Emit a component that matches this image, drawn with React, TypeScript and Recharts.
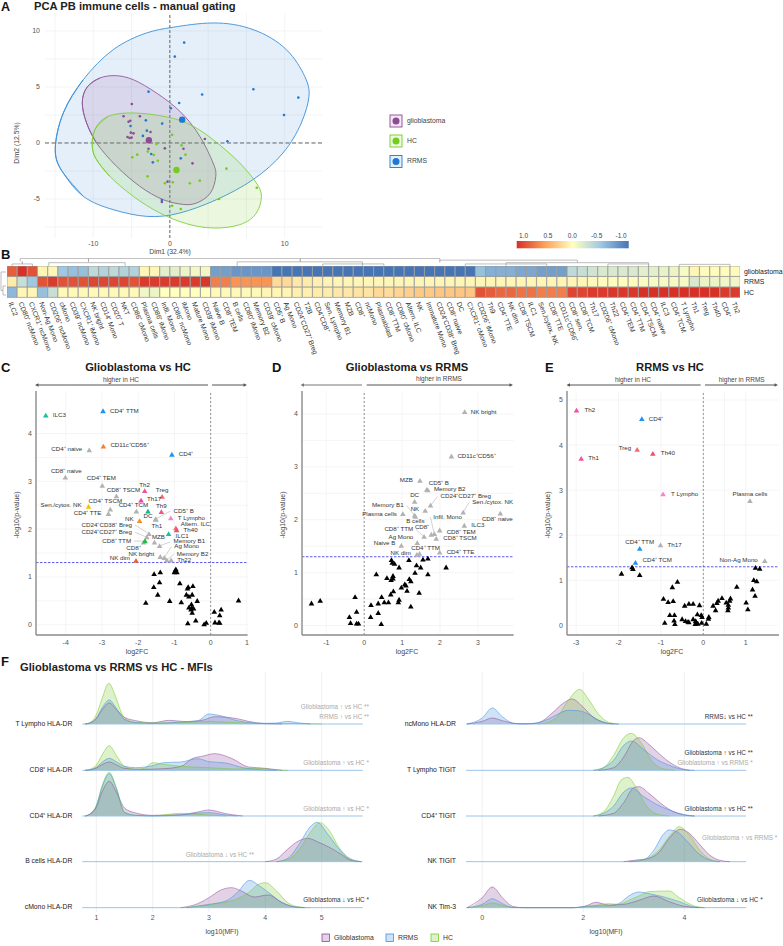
import React from 'react';
import {
  Area, Bar, BarChart, CartesianGrid, Cell, ComposedChart, Line, ReferenceLine,
  Scatter, ScatterChart, XAxis, YAxis,
} from 'recharts';

type Pt = [number, number];
type Named = [string, number, number];
type LabelPos = [number, number, 's' | 'e' | 'm', boolean?];

const PURPLE = '#8e4a96';
const GREEN = '#74cc1e';
const BLUE = '#1f78d1';
const GRAY = '#b2b2b2';

// ---------- A: PCA (x unit = 1/5 of a grid step, the printed labels are not evenly spaced)
const dim1Ticks = [-10, 0, 15];
const dim1Labels = ['-10', '0', '10'];
const dim1Grid = [-15, -10, -5, 0, 5, 10, 15];
const dim2Ticks = [-5, 0, 5, 10];
const dim2Grid = [-7.5, -5, -2.5, 0, 2.5, 5, 7.5, 10];

const rrmsEllipse: Pt[] = [[-14.96, -0.6], [-13.91, 2.68], [-11.3, 5.65], [-7.39, 8.33], [-3.04, 9.82], [0.43, 10.33], [5.65, 10.71], [10.87, 10.12], [15.22, 8.33], [17.61, 5.95], [18.17, 4.17], [17.17, 1.79], [14.78, -0.89], [10.87, -3.27], [6.09, -5.06], [1.3, -6.25], [-3.04, -6.55], [-7.39, -5.95], [-11.3, -4.76], [-13.91, -2.68]];
const glioEllipse: Pt[] = [[-11.43, 3.57], [-10.78, 5], [-9.13, 5.8], [-7.17, 6.01], [-4.78, 5.65], [-1.74, 4.46], [1.3, 2.83], [3.91, 0.6], [5.65, -1.79], [6, -2.98], [5.3, -4.46], [3.48, -5.36], [1.74, -5.48], [-0.87, -5.06], [-3.91, -3.87], [-6.96, -2.08], [-9.57, 0], [-10.87, 1.79]];
const hcEllipse: Pt[] = [[-10.13, -0.3], [-9.78, 1.19], [-8.04, 2.38], [-4.78, 2.68], [-1.3, 2.44], [2.17, 1.79], [5.65, 0.3], [9.13, -1.79], [11.3, -3.57], [11.96, -4.76], [11.3, -6.25], [9.13, -7.29], [5.65, -7.59], [2.17, -7.2], [-1.3, -6.25], [-4.78, -4.76], [-7.83, -2.98], [-9.57, -1.49]];

const glioPoints: Pt[] = [[-4.96, 3.48], [-6.04, 2.38], [-3.91, 2.38], [-5.17, 1.99], [-5.39, 1.9], [-2.52, 0.98], [-5.09, 0.92], [-4.74, 0.86], [-5.52, 0.54], [-5.26, 0.45], [-5, 0.48], [-2.78, -0.51], [-0.65, -0.48], [1.78, -0.51], [2.96, -1.82], [-0.3, -3.45], [-1.04, -5.27], [4.57, 0.36]];
const hcPoints: Pt[] = [[-1.74, -0.09], [0.3, 0.74], [1.52, -0.21], [-2.87, -0.77], [-2.09, -1.07], [-4.26, -1.04], [-4.91, -1.28], [-1.57, -1.58], [2.04, -1.04], [-2.91, -2.98], [-0.65, -3.6], [0.39, -3.51], [2.61, -3.6], [3.91, -3.36], [7.39, -2.29], [11.35, -3.99], [6.43, -5], [0.3, -5.6], [1.43, -5.89]];
const rrmsPoints: Pt[] = [[1.87, 8.96], [0.65, 7.71], [-2.78, 4.58], [4.22, 4.32], [10.91, 4.79], [16.78, 4.05], [14.91, 2.5], [1.22, 3.57], [0.13, 3.1], [-3.13, 2.02], [-1, 1.73], [-5.13, 1.52], [-3, 1.1], [-3.52, 0.63], [7.52, 0.15], [-2.43, -0.98], [-2.22, -1.73], [1.43, -1.37], [-1.04, -5.09]];
const glioCentroid: Pt[] = [[-2.74, 0.24]];
const hcCentroid: Pt[] = [[0.87, -2.41]];
const rrmsCentroid: Pt[] = [[1.61, 2.08]];

// ---------- B: heatmap
const heatLabels = ['ILC2', 'CD80⁺ ncMono', 'CXCR1⁺ ncMono', 'Non-Ag Mono', 'CD206⁺ ncMono', 'cMono', 'CD39⁺ ncMono', 'CXCR1⁺ iMono', 'NK bright', 'CD14⁺ Mono', 'CD20⁺ T', 'NKT', 'CD86⁺ cMono', 'Plasma cells', 'CD86⁺ iMono', 'Infil. Mono', 'CD86⁺ ncMono', 'iMono', 'Mature Mono', 'CD39⁺ iMono', 'Naive B', 'CD8⁺ TEM', 'B cells', 'CD80⁺ iMono', 'Memory B2', 'CD39⁺ cMono', 'CD5⁺ B', 'Ag Mono', 'CD24⁺CD27⁺ Breg', 'T2B', 'CD4⁺CD8⁺', 'Sen. Lympho', 'Memory B1', 'MZB', 'CD8⁺', 'ncMono', 'Plasmablast', 'CD8⁺ TTM', 'CD80⁺ cMono', 'Altern. ILC', 'NK', 'Immature Mono', 'CD24⁺CD38⁺ Breg', 'CD8⁺ naive', 'DC', 'CXCR1⁺ cMono', 'CD206⁺ iMono', 'Th9', 'CD4⁺ TTE', 'NK dim', 'CD8⁺ TSCM', 'ILC1', 'Sen./cytox. NK', 'CD8⁺ TTE', 'CD11c⁺CD56⁺', 'CD8⁺ sen.', 'CD8⁺ TCM', 'Th17', 'CD206⁺ cMono', 'Th22', 'CD4⁺ TEM', 'CD4⁺ TTM', 'CD4⁺ TSCM', 'CD4⁺ naive', 'ILC3', 'CD4⁺ TCM', 'T Lympho', 'Th1', 'Treg', 'Th40', 'CD4⁺', 'Th2'];
const heatGlio = [0.8, 1, 0.85, 0.05, 0.05, -0.5, -0.55, -0.55, -0.35, -0.4, -0.35, -0.4, -0.4, 0.05, 0.05, -0.15, -0.15, -0.1, -0.07, -0.07, -0.75, -0.75, -0.8, -0.8, -0.8, -0.8, -1, -1, -1, -1, -1, -1, -1, -1, -1, -1, -1, -1, -1, -1, -1, -1, -1, -1, -1, -1, -0.55, -0.65, -0.65, -0.65, -0.7, -0.7, -0.75, -0.75, -0.75, -0.35, -0.3, -0.25, -0.2, -0.2, -0.2, -0.2, -0.15, -0.15, -0.12, -0.1, -0.05, 0.05, 0.02, 0.02, 0.02, 0.02];
const heatRrms = [0.1, -0.3, -0.5, 0.85, 0.95, 0.85, 0.85, 0.85, 0.9, 0.9, 0.9, 0.9, 0.85, 0.95, 0.95, 0.95, 0.95, 0.95, 0.95, 0.97, 0.65, 0.65, 0.55, 0.55, 0.55, 0.55, 0.2, 0.2, 0.12, 0.1, 0.08, 0.06, 0.05, 0.05, 0.05, 0.05, 0.05, 0.05, 0.05, 0.05, 0.05, 0.05, 0.05, 0.05, 0.05, 0.05, 0.05, 0.05, 0.05, 0.05, 0.05, 0.05, 0.05, 0.05, 0.05, 0.05, 0.05, 0.03, 0.02, 0.02, 0.02, 0.02, -0.02, -0.05, -0.05, -0.05, -0.05, -0.2, -0.1, -0.1, -0.08, -0.08];
const heatHc = [-0.6, 0.05, 0.05, -0.55, -0.3, 0.03, 0.03, 0.03, 0.03, 0.03, 0.03, 0.03, 0.03, -0.08, -0.1, 0, 0, 0, 0, 0, 0.03, 0.03, 0.03, 0.03, 0.03, 0.05, 0.05, 0.06, 0.08, 0.08, 0.1, 0.1, 0.12, 0.12, 0.14, 0.14, 0.2, 0.18, 0.22, 0.25, 0.28, 0.28, 0.3, 0.3, 0.3, 0.3, 0.85, 0.8, 0.75, 0.75, 0.7, 0.7, 0.65, 0.65, 0.65, 0.9, 0.9, 0.95, 0.95, 0.97, 0.97, 0.97, 1, 1, 1, 1, 1, 1, 1, 1, 0.95, 0.95];
const heatStops: [number, number[]][] = [[-1, [69, 117, 180]], [-0.5, [160, 200, 226]], [0, [255, 255, 191]], [0.5, [252, 160, 90]], [1, [215, 48, 39]]];
// [left column, right column, height, foot of the legs]
const dendroMerges: [number, number, number, number][] = [[1.3, 42.5, 0.95, 0.6], [8, 8, 0.95, 0.55], [28.8, 28.8, 0.9, 0.55], [22.6, 34.9, 0.55, 0], [4.1, 11.6, 0.45, 0], [0.5, 2.5, 0.3, 0], [1.5, 1.5, 0.6, 0.3], [42.5, 56, 0.75, 0.45], [49, 63, 0.45, 0], [59, 63, 0.3, 0], [31, 37, 0.3, 0], [45, 53, 0.3, 0], [66, 71, 0.25, 0]];

// ---------- C, D, E: volcano plots
const cPoints: Named[] = [['ILC3', -4.55, 4.38], ['CD4⁺ TTM', -2.97, 4.47], ['CD11c⁺CD56⁺', -2.96, 3.73], ['CD4⁺ naive', -3.35, 3.65], ['CD4⁺', -1.07, 3.56], ['CD8⁺ naive', -4.01, 3.08], ['CD4⁺ TEM', -2.99, 2.91], ['Th2', -1.82, 2.8], ['CD8⁺ TSCM', -2.6, 2.69], ['Treg', -1.34, 2.68], ['Th17', -1.92, 2.6], ['Sen./cytox. NK', -3.37, 2.47], ['CD4⁺ TSCM', -2.77, 2.41], ['CD4⁺ TTE', -2.82, 2.32], ['CD4⁺ TCM', -2.05, 2.37], ['Th9', -1.36, 2.36], ['DC', -1.73, 2.37], ['CD5⁺ B', -1.52, 2.21], ['T Lympho', -1.1, 2.23], ['Th1', -1.51, 2.2], ['NK', -1.96, 2.17], ['Altern. ILC', -0.96, 2.02], ['Th40', -0.94, 1.98], ['CD24⁺CD38⁺ Breg', -1.7, 1.9], ['ILC1', -1.16, 1.9], ['CD24⁺CD27⁺ Breg', -1.76, 1.83], ['MZB', -1.55, 1.72], ['CD8⁺', -1.85, 1.72], ['CD8⁺ TTM', -1.81, 1.75], ['Memory B1', -1.41, 1.65], ['NK bright', -1.39, 1.42], ['Ag Mono', -1.28, 1.4], ['Memory B2', -1.21, 1.35], ['Th22', -1.09, 1.35], ['NK dim', -2.06, 1.34]];
const cOthers: Pt[] = [[-1.56, 1.06], [-1.39, 1.1], [-0.98, 1.13], [-0.96, 1.16], [-0.93, 1.1], [-1, 1.1], [-0.85, 0.87], [-1.41, 0.89], [-1.57, 0.79], [-0.62, 0.79], [-0.64, 0.76], [-0.49, 0.81], [-1.46, 0.63], [-0.67, 0.63], [-0.51, 0.63], [-0.6, 0.59], [-1.13, 0.5], [-0.37, 0.5], [0.77, 0.51], [-1.79, 0.46], [-0.81, 0.47], [-0.53, 0.43], [-0.6, 0.36], [-0.52, 0.36], [-0.47, 0.34], [-0.54, 0.32], [0.29, 0.32], [0.1, 0.27], [-0.51, 0.25], [0.25, 0.2], [-0.41, 0.09], [-0.63, 0.03], [-0.12, 0.04], [-0.18, 0.01], [0.12, 0.05], [0.23, 0.05], [0.25, 0.04]];
const cColors: Record<string, string> = { ILC3: '#16bfa6', 'CD4⁺ TTM': '#1e93f2', 'CD11c⁺CD56⁺': '#f0803c', 'CD4⁺': '#1e93f2', Th2: '#f0559b', Treg: '#f8696b', Th17: '#ee44aa', 'Sen./cytox. NK': '#f2c200', Th9: '#f2577f', DC: '#0fb88a', 'T Lympho': '#f97fd0', NK: '#f28e2b', 'Altern. ILC': '#f8696b', Th40: '#f0506e', ILC1: '#16bfa6', 'CD8⁺ TTM': '#22b84c', 'NK dim': '#e8622a' };
const cLabels: Record<string, LabelPos> = { ILC3: [4, 0, 's'], 'CD4⁺ TTM': [4, 0, 's'], 'CD11c⁺CD56⁺': [4, -1, 's'], 'CD4⁺ naive': [-4, -1, 'e'], 'CD4⁺': [4, 0, 's'], 'CD8⁺ naive': [1, -6, 'm'], 'CD4⁺ TEM': [-1, -7, 'm'], Th2: [0, -6, 'm'], 'CD8⁺ TSCM': [7, -6, 'm'], Treg: [0, -6, 'm'], Th17: [3, -1, 's'], 'Sen./cytox. NK': [-4, -1, 'e'], 'CD4⁺ TSCM': [-5, -8, 'm'], 'CD4⁺ TTE': [-4, 0, 'e'], 'CD4⁺ TCM': [-3, -6, 'm'], Th9: [0, -6, 'm'], DC: [0, 4.5, 'm'], 'CD5⁺ B': [15, -8, 's', true], 'T Lympho': [4, 0, 's'], Th1: [1, 6.5, 'm'], NK: [-3, -2, 'e'], 'Altern. ILC': [2, -4, 's'], Th40: [4, 0, 's'], 'CD24⁺CD38⁺ Breg': [-14, -9, 'e', true], ILC1: [4, 2, 's'], 'CD24⁺CD27⁺ Breg': [-12, -5, 'e', true], MZB: [4, -5, 'm'], 'CD8⁺ TTM': [-11, 0, 'e', true], 'CD8⁺': [0, 6, 'e'], 'Memory B1': [11, -4, 's', true], 'NK bright': [-3, -2, 'e'], 'Ag Mono': [7, -11, 's', true], 'Memory B2': [7, -6, 's', true], Th22: [3, 0, 's'], 'NK dim': [-3, -2, 'e'] };

const dPoints: Named[] = [['NK bright', 2.65, 4.04], ['CD11c⁺CD56⁺', 2.3, 3.2], ['MZB', 1.47, 2.74], ['CD5⁺ B', 1.65, 2.57], ['Memory B2', 1.68, 2.56], ['DC', 1.33, 2.34], ['CD24⁺CD27⁺ Breg', 1.75, 2.27], ['NK', 1.61, 2.17], ['Sen./cytox. NK', 2.61, 2.14], ['CD8⁺ naive', 3.59, 2.12], ['Memory B1', 1.33, 2.08], ['Plasma cells', 1.02, 2.11], ['B cells', 1.35, 2.06], ['ILC3', 2.64, 1.89], ['Infil. Mono', 1.85, 1.73], ['CD8⁺ TEM', 1.99, 1.8], ['CD8⁺', 1.77, 1.72], ['CD8⁺ TTM', 1.58, 1.68], ['CD8⁺ TSCM', 1.9, 1.64], ['Ag Mono', 1.4, 1.56], ['Naive B', 0.98, 1.51], ['CD4⁺ TTM', 1.46, 1.36], ['NK dim', 1.39, 1.34], ['CD4⁺ TTE', 1.99, 1.38]];
const dOthers: Pt[] = [[0.72, 1.24], [0.74, 1.19], [0.8, 1.17], [0.92, 1.1], [1.18, 1.24], [1.55, 1.25], [1.68, 1.27], [1.38, 1.14], [1.49, 1.1], [2.16, 1.1], [1.34, 1], [1.68, 0.97], [0.32, 0.97], [0.6, 0.9], [0.76, 0.94], [0.76, 0.89], [0.71, 0.86], [1.19, 0.88], [1.23, 0.84], [0.98, 0.72], [1.07, 0.78], [1.1, 0.76], [1.13, 0.66], [0.77, 0.65], [0.7, 0.59], [1.45, 0.62], [-0.24, 0.54], [-1.16, 0.47], [-1.39, 0.42], [0.46, 0.54], [0.92, 0.49], [0.9, 0.44], [0.37, 0.42], [0.53, 0.44], [0.64, 0.44], [0.18, 0.39], [1.23, 0.36], [-0.2, 0.26], [0.37, 0.24], [-0.39, 0.16], [0.17, 0.16], [-0.36, 0.05], [-0.2, 0.04], [-0.15, 0.04], [0.45, 0.03]];
const dLabels: Record<string, LabelPos> = { 'NK bright': [3, 0, 's'], 'CD11c⁺CD56⁺': [3, 0, 's'], MZB: [-4, 0, 'e'], 'CD5⁺ B': [-1, -6, 's'], 'Memory B2': [3, -1, 's'], DC: [0, -6, 'm'], 'CD24⁺CD27⁺ Breg': [7, -9, 's', true], NK: [-3, -1, 'e'], 'Sen./cytox. NK': [6, -10, 's', true], 'CD8⁺ naive': [-3, 6, 'm'], 'Memory B1': [-8, -10, 'e', true], 'Plasma cells': [-3, 0, 'e'], 'B cells': [0, 5, 'm'], ILC3: [4, 0, 's'], 'Infil. Mono': [-4, -17, 's', true], 'CD8⁺ TEM': [4, 2, 's'], 'CD8⁺': [1, -7, 'e'], 'CD8⁺ TTM': [-8, -7, 'e', true], 'CD8⁺ TSCM': [4, 0, 's'], 'Ag Mono': [-1, -6, 'e'], 'Naive B': [-3, -2, 'e'], 'CD4⁺ TTM': [6, -5, 'm'], 'NK dim': [-3, -1, 'e'], 'CD4⁺ TTE': [4, 0, 's'] };

const ePoints: Named[] = [['Th2', -2.99, 4.77], ['CD4⁺', -1.45, 4.58], ['Treg', -1.56, 3.9], ['Th40', -1.19, 3.81], ['Th1', -2.88, 3.7], ['T Lympho', -0.95, 2.91], ['Plasma cells', 1.1, 2.76], ['CD4⁺ TTM', -1.5, 1.7], ['Th17', -1.01, 1.78], ['CD4⁺ TCM', -1.6, 1.39], ['Non-Ag Mono', 1.45, 1.43]];
const eOthers: Pt[] = [[-1.68, 1.29], [-1.66, 1.25], [-1.93, 1.15], [-1.5, 1.12], [1.23, 1.28], [1.33, 1.26], [1.19, 1.01], [1.26, 0.98], [1.16, 0.8], [1.22, 0.66], [0.79, 0.86], [-0.61, 0.97], [-0.73, 0.85], [-0.94, 0.59], [-0.71, 0.54], [-0.83, 0.52], [1.01, 0.51], [1.05, 0.36], [0.44, 0.61], [0.64, 0.6], [0.62, 0.55], [0.35, 0.55], [0.32, 0.5], [0.23, 0.44], [0.29, 0.34], [0.54, 0.51], [0.59, 0.46], [0.59, 0.4], [0.58, 0.34], [-0.09, 0.45], [-0.44, 0.44], [-0.34, 0.48], [-0.24, 0.48], [-0.79, 0.23], [-0.68, 0.23], [-0.14, 0.25], [-0.05, 0.23], [-0.03, 0.19], [0.13, 0.19], [0.12, 0.15], [-0.5, 0.14], [-0.42, 0.1], [-0.24, 0.14], [-0.34, 0.07], [-0.36, 0.08], [-0.91, 0.06], [-0.69, 0.11], [-0.67, 0.03], [-0.19, 0.03], [-0.17, 0.07], [-0.13, 0.04], [-0.04, 0.06], [0.07, 0.04], [-0.18, 0.1]];
const eColors: Record<string, string> = { Th2: '#f0559b', 'CD4⁺': '#1e93f2', Treg: '#f8696b', Th40: '#f0506e', Th1: '#f0559b', 'T Lympho': '#f97fd0', 'CD4⁺ TTM': '#1e93f2', 'CD4⁺ TCM': '#1e93f2' };
const eLabels: Record<string, LabelPos> = { Th2: [5, 0, 's'], 'CD4⁺': [4, 0, 's'], Treg: [-3, -1, 'e'], Th40: [5, 0, 's'], Th1: [4, 0, 's'], 'T Lympho': [5, 0, 's'], 'Plasma cells': [0, -7, 'm'], 'CD4⁺ TTM': [0, -6, 'm'], Th17: [4, 0, 's'], 'CD4⁺ TCM': [4, -2, 's'], 'Non-Ag Mono': [-4, -1, 'e'] };

// ---------- F: ridgelines, [log10(MFI), ridge height]
const leftRowLabels = ['cMono HLA-DR', 'B cells HLA-DR', 'CD4⁺ HLA-DR', 'CD8⁺ HLA-DR', 'T Lympho HLA-DR'];
const rightRowLabels = ['NK Tim-3', 'NK TIGIT', 'CD4⁺ TIGIT', 'T Lympho TIGIT', 'ncMono HLA-DR'];
const rowBases = [0, 138, 275, 412, 551];

const tLymphoHc: Pt[] = [[0.8, 0], [0.9, 6], [1, 28], [1.1, 76], [1.22, 122], [1.35, 78], [1.45, 32], [1.55, 12], [1.7, 5], [2, 3], [2.5, 4], [3, 8], [3.5, 4], [4, 1.5], [4.5, 1.5], [5, 0]];
const tLymphoRrms: Pt[] = [[0.8, 0], [0.9, 4], [1, 18], [1.1, 48], [1.23, 72], [1.35, 48], [1.5, 14], [1.7, 4], [2, 2], [2.5, 6], [2.8, 10], [3, 30], [3.2, 25], [3.5, 10], [3.8, 3], [4, 2], [4.2, 3], [4.4, 8], [4.6, 3], [4.8, 0]];
const tLymphoGlio: Pt[] = [[0.8, 0], [0.9, 4], [1, 16], [1.1, 42], [1.23, 63], [1.35, 44], [1.5, 20], [1.7, 10], [2, 4], [2.3, 11], [2.6, 7], [2.9, 12], [3.1, 22], [3.5, 16], [3.7, 8], [4, 1], [4.3, 0]];
const cd8Hc: Pt[] = [[0.8, 0], [0.9, 4], [1, 16], [1.1, 46], [1.23, 74], [1.35, 46], [1.5, 12], [1.7, 3], [1.85, 6], [2, 23], [2.2, 18], [2.5, 12], [3, 8], [3.5, 4], [3.9, 6], [4.2, 1], [4.4, 0]];
const cd8Rrms: Pt[] = [[0.8, 0], [0.9, 2], [1, 9], [1.1, 24], [1.23, 36], [1.35, 26], [1.5, 12], [1.7, 8], [2, 14], [2.2, 23], [2.5, 25], [2.8, 35], [3, 26], [3.3, 22], [3.6, 8], [3.9, 2], [4.2, 0]];
const cd8Glio: Pt[] = [[0.8, 0], [0.9, 2], [1, 7], [1.1, 17], [1.23, 25], [1.35, 17], [1.5, 6], [1.8, 3], [2.2, 5], [2.5, 12], [2.7, 35], [2.9, 43], [3.1, 50], [3.4, 36], [3.7, 10], [4, 6], [4.3, 0]];
const cd4Hc: Pt[] = [[0.8, 0], [0.9, 8], [1, 32], [1.1, 90], [1.23, 131], [1.35, 88], [1.5, 12], [1.7, 2], [2, 1], [2.5, 8], [3, 3], [3.3, 0]];
const cd4Rrms: Pt[] = [[0.8, 0], [0.9, 8], [1, 30], [1.1, 86], [1.23, 127], [1.35, 84], [1.5, 10], [1.7, 2], [2, 0], [2.5, 3], [2.8, 9], [3, 10], [3.3, 3], [3.5, 0]];
const cd4Glio: Pt[] = [[0.8, 0], [0.9, 7], [1, 26], [1.1, 72], [1.23, 104], [1.35, 74], [1.5, 24], [1.7, 9], [2, 2], [2.5, 4], [2.8, 12], [3, 18], [3.3, 7], [3.6, 0]];
const bCellsHc: Pt[] = [[4.2, 0], [4.4, 6], [4.6, 36], [4.8, 88], [4.97, 117], [5.15, 90], [5.3, 45], [5.5, 10], [5.7, 0]];
const bCellsRrms: Pt[] = [[4.2, 0], [4.4, 10], [4.6, 52], [4.8, 105], [4.92, 118], [5.1, 85], [5.3, 40], [5.5, 8], [5.7, 0]];
const bCellsGlio: Pt[] = [[4, 0], [4.2, 8], [4.4, 38], [4.6, 63], [4.75, 70], [4.95, 58], [5.15, 42], [5.35, 22], [5.5, 5], [5.7, 0]];
const cMonoHc: Pt[] = [[2.6, 0], [2.9, 6], [3.2, 14], [3.5, 26], [3.7, 45], [3.9, 72], [4, 75], [4.2, 50], [4.4, 15], [4.6, 2], [4.8, 0]];
const cMonoRrms: Pt[] = [[2.6, 0], [3, 10], [3.3, 20], [3.5, 45], [3.72, 82], [3.9, 65], [4.1, 40], [4.3, 15], [4.5, 3], [4.7, 0]];
const cMonoGlio: Pt[] = [[2.5, 0], [2.8, 12], [3, 30], [3.2, 52], [3.4, 60], [3.6, 48], [3.8, 32], [4.05, 38], [4.3, 15], [4.5, 3], [4.7, 0]];

const ncMonoHc: Pt[] = [[1.1, 0], [1.3, 5], [1.5, 25], [1.7, 70], [1.93, 104], [2.1, 75], [2.3, 30], [2.5, 5], [2.7, 0]];
const ncMonoRrms: Pt[] = [[-0.3, 0], [0, 18], [0.2, 48], [0.4, 22], [0.6, 3], [0.8, 0], [1.1, 4], [1.3, 14], [1.5, 30], [1.7, 41], [1.9, 40], [2.1, 30], [2.3, 12], [2.5, 2], [2.7, 0]];
const ncMonoGlio: Pt[] = [[-0.3, 0], [0, 8], [0.2, 18], [0.4, 10], [0.7, 1], [1, 1], [1.2, 10], [1.4, 35], [1.6, 62], [1.78, 75], [2, 50], [2.2, 20], [2.4, 5], [2.6, 0]];
const tTigitHc: Pt[] = [[2.2, 0], [2.4, 8], [2.6, 45], [2.8, 98], [2.95, 111], [3.15, 82], [3.35, 30], [3.55, 6], [3.8, 0]];
const tTigitRrms: Pt[] = [[2.2, 0], [2.4, 8], [2.6, 30], [2.8, 75], [2.95, 88], [3.2, 62], [3.4, 38], [3.7, 15], [4, 2], [4.2, 0]];
const tTigitGlio: Pt[] = [[2.3, 0], [2.6, 8], [2.8, 40], [3, 90], [3.1, 98], [3.3, 78], [3.5, 50], [3.7, 25], [3.9, 8], [4.1, 0]];
const cd4TigitHc: Pt[] = [[2.2, 0], [2.4, 12], [2.6, 60], [2.75, 108], [2.88, 116], [3.05, 85], [3.25, 30], [3.45, 6], [3.7, 0]];
const cd4TigitRrms: Pt[] = [[2.2, 0], [2.4, 8], [2.6, 30], [2.8, 72], [2.95, 84], [3.2, 58], [3.45, 35], [3.7, 18], [4, 4], [4.2, 0]];
const cd4TigitGlio: Pt[] = [[2.3, 0], [2.6, 8], [2.8, 40], [3, 85], [3.1, 88], [3.3, 68], [3.5, 42], [3.7, 20], [4, 3], [4.2, 0]];
const nkTigitHc: Pt[] = [[2.9, 0], [3.1, 2], [3.3, 12], [3.5, 35], [3.7, 75], [3.9, 105], [4.1, 80], [4.3, 35], [4.5, 8], [4.7, 0]];
const nkTigitRrms: Pt[] = [[2.9, 0], [3.2, 6], [3.4, 35], [3.6, 85], [3.7, 95], [3.85, 90], [4.05, 62], [4.3, 22], [4.5, 5], [4.7, 0]];
const nkTigitGlio: Pt[] = [[2.8, 0], [3, 4], [3.3, 10], [3.5, 28], [3.7, 70], [3.92, 97], [4.1, 85], [4.3, 52], [4.5, 20], [4.7, 4], [4.9, 0]];
const nkTimHc: Pt[] = [[-0.3, 0], [0, 6], [0.2, 14], [0.4, 7], [0.6, 0], [1.8, 0], [2.1, 3], [2.5, 12], [2.7, 10], [2.9, 22], [3.1, 35], [3.3, 48], [3.7, 50], [3.9, 30], [4.2, 5], [4.4, 0]];
const nkTimRrms: Pt[] = [[-0.3, 0], [0, 10], [0.2, 27], [0.4, 12], [0.6, 1], [0.9, 0], [1.8, 0], [2.1, 5], [2.5, 6], [2.7, 12], [2.9, 35], [3.1, 47], [3.3, 42], [3.6, 32], [3.9, 18], [4.2, 2], [4.4, 0]];
const nkTimGlio: Pt[] = [[-0.3, 0], [0, 30], [0.2, 62], [0.4, 30], [0.6, 4], [0.8, 0], [1.8, 0], [2.05, 5], [2.25, 16], [2.5, 8], [2.8, 10], [3.1, 22], [3.4, 35], [3.7, 18], [4, 4], [4.3, 0]];

const leftRidges = [[cMonoGlio, cMonoHc, cMonoRrms], [bCellsGlio, bCellsHc, bCellsRrms], [cd4Glio, cd4Hc, cd4Rrms], [cd8Glio, cd8Hc, cd8Rrms], [tLymphoGlio, tLymphoHc, tLymphoRrms]];
const rightRidges = [[nkTimGlio, nkTimHc, nkTimRrms], [nkTigitGlio, nkTigitHc, nkTigitRrms], [cd4TigitGlio, cd4TigitHc, cd4TigitRrms], [tTigitGlio, tTigitHc, tTigitRrms], [ncMonoGlio, ncMonoHc, ncMonoRrms]];
const ridgeColors = ['#8e4a96', '#79c92a', '#3f8fdc'];

const notes: [string, number, number, boolean][] = [
  ['Glioblastoma ↑ vs HC **', 369, 707, false], ['RRMS ↑ vs HC **', 369, 717, false], ['Glioblastoma ↑ vs HC *', 369, 763, false],
  ['Glioblastoma ↑ vs HC *', 369, 809, false], ['Glioblastoma ↓ vs HC **', 254, 855, false], ['Glioblastoma ↓ vs HC *', 369, 900, true],
  ['RRMS↓ vs HC **', 752.7, 717, true], ['Glioblastoma ↑ vs HC **', 752.7, 753, true], ['Glioblastoma ↑ vs RRMS *', 752.7, 763, false],
  ['Glioblastoma ↑ vs HC **', 752.7, 809, true], ['Glioblastoma ↑ vs RRMS *', 777.3, 838, false], ['Glioblastoma ↓ vs HC *', 762.7, 900, true],
];

const heatColor = (v: number) => {
  for (let i = 1; i < heatStops.length; i++) {
    const [hi, c1] = heatStops[i];
    const [lo, c0] = heatStops[i - 1];
    if (v <= hi) {
      const t = (v - lo) / (hi - lo);
      return `rgb(${c0.map((c, k) => Math.round(c + (c1[k] - c) * t)).join(',')})`;
    }
  }
  return 'rgb(215,48,39)';
};

const xy = (pts: Pt[]) => pts.map(([x, y]) => ({ x, y }));
// run past the joint on both sides so the spline has no corner where the outline closes
const closeLoop = (pts: Pt[]) => [...pts.slice(-2), ...pts, ...pts.slice(0, 3)];
const box = (left: number, top: number): React.CSSProperties => ({ position: 'absolute', left, top });
const tickStyle = { fontSize: 7, fill: '#555' };

const PcaChart = () => {
  const cloud = (pts: Pt[], color: string, r: number) => (
    <Scatter data={xy(pts)} isAnimationActive={false} shape={(p: any) => <circle cx={p.cx} cy={p.cy} r={r} fill={color} />} />
  );
  const ellipse = (pts: Pt[], color: string, line: string) => (
    <Scatter data={xy(closeLoop(pts))} isAnimationActive={false} lineJointType="natural" shape={() => <g />}
      line={{ stroke: line, strokeWidth: 0.9, fill: color, fillOpacity: 0.14 }} />
  );
  return (
    <div style={box(0, 0)}>
      <ScatterChart width={330} height={270} margin={{ top: 13, right: 8, bottom: 0, left: 0 }}>
        <CartesianGrid stroke="#efefef" strokeWidth={0.7} verticalValues={dim1Grid} horizontalValues={dim2Grid} />
        <XAxis type="number" dataKey="x" domain={[-16.3, 19.87]} ticks={dim1Ticks} height={32} axisLine={false} tickLine={false} tickSize={0} tick={tickStyle} tickMargin={3}
          tickFormatter={(v: number) => dim1Labels[dim1Ticks.indexOf(v)]} />
        <YAxis type="number" dataKey="y" domain={[-8.48, 11.6]} ticks={dim2Ticks} width={45} axisLine={false} tickLine={false} tickSize={0} tick={tickStyle} tickMargin={5} />
        {ellipse(rrmsEllipse, '#4a90d9', '#3b8ed8')}
        {ellipse(glioEllipse, PURPLE, '#8e5a9c')}
        {ellipse(hcEllipse, GREEN, '#80cf3c')}
        <ReferenceLine x={0} stroke="#555" strokeWidth={0.9} strokeDasharray="3 2" />
        <ReferenceLine y={0} stroke="#555" strokeWidth={0.9} strokeDasharray="4 2.5" />
        {cloud(glioPoints, PURPLE, 1.3)}
        {cloud(hcPoints, GREEN, 1.3)}
        {cloud(rrmsPoints, BLUE, 1.3)}
        {cloud(glioCentroid, PURPLE, 3.2)}
        {cloud(hcCentroid, GREEN, 3.2)}
        {cloud(rrmsCentroid, BLUE, 3.2)}
      </ScatterChart>
    </div>
  );
};

const HeatTick = ({ x, y, payload }: any) => (
  <text x={x - 2} y={y - 3} fontSize={6.9} fill="#333" transform={`rotate(69 ${x - 2} ${y - 3})`} dominantBaseline="middle">{payload.value}</text>
);

const Heatmap = () => {
  const rows = heatLabels.map((name) => ({ name, hc: 1, rrms: 1, glio: 1 }));
  const layer = (key: string, values: number[]) => (
    <Bar dataKey={key} stackId="cells" isAnimationActive={false} stroke="#9a9a9a" strokeWidth={0.8}>
      {values.map((v, i) => <Cell key={i} fill={heatColor(v)} />)}
    </Bar>
  );
  return (
    <div style={box(6.7, 266.3)}>
      <BarChart width={733.3} height={98} data={rows} barCategoryGap={0} margin={{ top: 0, right: 0, bottom: 0, left: 0 }}>
        <XAxis dataKey="name" interval={0} height={66.6} axisLine={false} tickLine={false} tick={<HeatTick />} />
        <YAxis hide type="number" domain={[0, 3]} />
        {layer('hc', heatHc)}
        {layer('rrms', heatRrms)}
        {layer('glio', heatGlio)}
      </BarChart>
    </div>
  );
};

const Dendrogram = () => (
  <div style={box(6.7, 258)}>
    <ScatterChart width={733.3} height={8.5} margin={{ top: 0, right: 0, bottom: 0, left: 0 }}>
      <XAxis hide type="number" dataKey="x" domain={[0, 72]} />
      <YAxis hide type="number" dataKey="y" domain={[0, 1]} />
      {dendroMerges.map(([a, b, h, foot], i) => (
        <Scatter key={i} isAnimationActive={false} shape={() => <g />} line={{ stroke: '#a0a0a0', strokeWidth: 0.7 }}
          data={xy([[a, foot], [a, h], [b, h], [b, foot]])} />
      ))}
    </ScatterChart>
  </div>
);

type VolcanoProps = {
  plot: [number, number, number, number];
  xDomain: [number, number];
  yDomain: [number, number];
  xTicks: number[];
  yTicks: number[];
  points: Named[];
  others: Pt[];
  colors: Record<string, string>;
  labels: Record<string, LabelPos>;
};

const triangle = (cx: number, cy: number, color: string) => (
  <polygon points={`${cx},${cy - 2.7} ${cx + 2.8},${cy + 2.1} ${cx - 2.8},${cy + 2.1}`} fill={color} />
);

const anchors = { s: 'start', e: 'end', m: 'middle' } as const;

const Volcano = ({ plot, xDomain, yDomain, xTicks, yTicks, points, others, colors, labels }: VolcanoProps) => {
  const [l, t, r, b] = plot;
  const axisW = 30;
  const halves = (ticks: number[]) => ticks.flatMap((v, i) => (i < ticks.length - 1 ? [v, (v + ticks[i + 1]) / 2] : [v]));
  const named = points.map(([name, x, y]) => ({ name, x, y }));
  return (
    <div style={box(l - axisW, t)}>
      <ScatterChart width={r - l + axisW + 2} height={b - t + 24} margin={{ top: 0, right: 2, bottom: 0, left: 0 }}>
        <CartesianGrid stroke="#f1f1f1" strokeWidth={0.7} verticalValues={halves(xTicks)} horizontalValues={halves(yTicks)} />
        <XAxis type="number" dataKey="x" domain={xDomain} ticks={xTicks} height={24} stroke="#8a8a8a" strokeWidth={1.4} tickLine={false} tickSize={0} tick={tickStyle} tickMargin={5} />
        <YAxis type="number" dataKey="y" domain={yDomain} ticks={yTicks} width={axisW} stroke="#8a8a8a" strokeWidth={1.4} tickLine={false} tickSize={0} tick={tickStyle} tickMargin={4} />
        <ReferenceLine x={0} stroke="#888" strokeWidth={0.9} strokeDasharray="2 2" />
        <ReferenceLine y={1.3} stroke="#4a4ae8" strokeWidth={0.9} strokeDasharray="2.5 1.5" />
        <Scatter data={xy(others)} isAnimationActive={false} shape={(p: any) => triangle(p.cx, p.cy, '#000')} />
        <Scatter data={named} isAnimationActive={false} shape={(p: any) => {
          const name = p.payload.name as string;
          const [dx, dy, anchor, leader] = labels[name];
          const shift = anchor === 's' ? 3 : anchor === 'e' ? -3 : 0;
          const tx = p.cx + dx + shift;
          const ty = p.cy + dy;
          return (
            <g>
              {leader && <line x1={p.cx} y1={p.cy} x2={tx - shift} y2={ty} stroke="#b5b5b5" strokeWidth={0.6} />}
              {triangle(p.cx, p.cy, colors[name] ?? GRAY)}
              <text x={tx} y={ty} fontSize={6.2} fill="#333" textAnchor={anchors[anchor]} dominantBaseline="middle">{name}</text>
            </g>
          );
        }} />
      </ScatterChart>
    </div>
  );
};

type RidgeProps = { left: number; plotLeft: number; plotRight: number; domain: [number, number]; ticks: number[]; rowLabels: string[]; ridges: Pt[][][] };

const Ridges = ({ left, plotLeft, plotRight, domain, ticks, rowLabels, ridges }: RidgeProps) => {
  const axisW = plotLeft - left;
  const inside = (pts: Pt[]) => pts.filter(([x]) => x > domain[0] && x < domain[1]);
  const band = (base: number, pts: Pt[]) => [[domain[0], 0] as Pt, ...inside(pts), [domain[1], 0] as Pt]
    .map(([x, h]) => ({ x, band: [base, base + h] }));
  const crest = (base: number, pts: Pt[]) => inside(pts).map(([x, h]) => ({ x, top: base + h }));
  const rowTick = ({ x, y, payload }: any) => (
    <text x={x} y={y} fontSize={6.8} fill="#222" textAnchor="end" dominantBaseline="middle">{rowLabels[rowBases.indexOf(payload.value)]}</text>
  );
  return (
    <div style={box(left, 672)}>
      <ComposedChart width={plotRight - left} height={260} margin={{ top: 0, right: 0, bottom: 0, left: 0 }}>
        <CartesianGrid stroke="#eaeaea" strokeWidth={0.7} horizontal={false} verticalValues={ticks} />
        <XAxis type="number" dataKey="x" domain={domain} ticks={ticks} height={20} axisLine={false} tickLine={false} tickSize={0} tick={tickStyle} tickMargin={3} allowDuplicatedCategory={false} />
        <YAxis type="number" domain={[-13, 707]} ticks={rowBases} width={axisW} axisLine={false} tickLine={false} tickSize={0} tickMargin={10} tick={rowTick} />
        {ridges.map((series, row) => series.map((pts, s) => (
          <Area key={`a${row}-${s}`} data={band(rowBases[row], pts)} dataKey="band" type="monotone" isAnimationActive={false}
            stroke="none" fill={ridgeColors[s]} fillOpacity={0.25} dot={false} activeDot={false} />
        )))}
        {rowBases.map((base) => <ReferenceLine key={base} y={base} stroke="#9cc4ea" strokeWidth={1} />)}
        {ridges.map((series, row) => series.map((pts, s) => (
          <Line key={`l${row}-${s}`} data={crest(rowBases[row], pts)} dataKey="top" type="monotone" isAnimationActive={false}
            stroke={ridgeColors[s]} strokeWidth={0.7} strokeOpacity={0.75} dot={false} activeDot={false} />
        )))}
      </ComposedChart>
    </div>
  );
};

const T = ({ x, y, size = 7, bold, fill = '#444', anchor = 'start', rotate, children }: any) => (
  <text x={x} y={y} fontSize={size} fontWeight={bold ? 700 : 400} fill={fill} textAnchor={anchor} dominantBaseline="middle"
    transform={rotate ? `rotate(${rotate} ${x} ${y})` : undefined}>{children}</text>
);

const Arrow = ({ x1, x2, y, fill = '#555' }: any) => {
  const dir = x2 > x1 ? 1 : -1;
  return (
    <g>
      <line x1={x1} x2={x2 - dir * 2} y1={y} y2={y} stroke={fill} strokeWidth={1} />
      <polygon points={`${x2},${y} ${x2 - dir * 3.5},${y - 1.8} ${x2 - dir * 3.5},${y + 1.8}`} fill={fill} />
    </g>
  );
};

const LegendKey = ({ x, y, color, text }: any) => (
  <g>
    <rect x={x} y={y - 6} width={12} height={12} fill={color} fillOpacity={0.12} stroke={color} strokeWidth={0.9} />
    <circle cx={x + 6} cy={y} r={3.5} fill={color} />
    <T x={x + 17} y={y} size={6.8} fill="#444">{text}</T>
  </g>
);

const Overlay = () => (
  <svg width={783} height={946} style={{ position: 'absolute', left: 0, top: 0, pointerEvents: 'none' }}>
    <defs>
      <linearGradient id="heatBar">
        <stop offset="0" stopColor="#d73027" />
        <stop offset="0.25" stopColor="#fca05a" />
        <stop offset="0.5" stopColor="#ffffbf" />
        <stop offset="0.75" stopColor="#a0c8e2" />
        <stop offset="1" stopColor="#4575b4" />
      </linearGradient>
    </defs>
    <T x={1} y={8} size={12.5} bold fill="#111">A</T>
    <T x={34} y={7} size={11.2} bold fill="#222">PCA PB immune cells - manual gating</T>
    <T x={170} y={252} anchor="middle" size={6.8}>Dim1 (32.4%)</T>
    <T x={17} y={143} anchor="middle" size={6.8} rotate={-90}>Dim2 (12.5%)</T>
    <LegendKey x={390} y={121} color={PURPLE} text="glioblastoma" />
    <LegendKey x={390} y={141} color={GREEN} text="HC" />
    <LegendKey x={390} y={161.5} color={BLUE} text="RRMS" />

    <T x={1} y={256} size={13} bold fill="#111">B</T>
    <rect x={516.7} y={241} width={112} height={7.3} fill="url(#heatBar)" />
    {['1.0', '0.5', '0.0', '-0.5', '-1.0'].map((s, i) => <T key={s} x={523.5 + i * 24.4} y={236.7} anchor="middle" size={6.5}>{s}</T>)}
    <T x={744} y={272} size={6.9} fill="#222">glioblastoma</T>
    <T x={744} y={282.5} size={6.9} fill="#222">RRMS</T>
    <T x={744} y={293} size={6.9} fill="#222">HC</T>
    <path d="M6 272H1V290.5H3M3 286V295M3 286H6M3 295H6" fill="none" stroke="#a0a0a0" strokeWidth={0.7} />

    <T x={1} y={369} size={13} bold fill="#111">C</T>
    <T x={138} y={368} anchor="middle" size={11.2} bold fill="#1a1a1a">Glioblastoma vs HC</T>
    <T x={121} y={380} anchor="middle" size={6.5}>higher in HC</T>
    <Arrow x1={208} x2={35} y={385} />
    <Arrow x1={212} x2={247} y={385} />
    <T x={17} y={515} anchor="middle" size={7} rotate={-90}>-log10(p-value)</T>
    <T x={137} y={652} anchor="middle" size={7}>log2FC</T>

    <T x={272} y={369} size={13} bold fill="#111">D</T>
    <T x={407} y={368} anchor="middle" size={11.2} bold fill="#1a1a1a">Glioblastoma vs RRMS</T>
    <T x={439} y={379} anchor="middle" size={6.5}>higher in RRMS</T>
    <Arrow x1={362} x2={300.5} y={385} fill="#777" />
    <Arrow x1={366.7} x2={513} y={385} />
    <T x={283} y={515} anchor="middle" size={7} rotate={-90}>-log10(p-value)</T>
    <T x={407} y={652} anchor="middle" size={7}>log2FC</T>

    <T x={545} y={369} size={13} bold fill="#111">E</T>
    <T x={670} y={368} anchor="middle" size={11.2} bold fill="#1a1a1a">RRMS vs HC</T>
    <T x={633} y={380} anchor="middle" size={6.5}>higher in HC</T>
    <T x={741.7} y={380} anchor="middle" size={6.5}>higher in RRMS</T>
    <Arrow x1={700.7} x2={566.5} y={385} />
    <Arrow x1={705} x2={778} y={385} />
    <T x={548} y={515} anchor="middle" size={7} rotate={-90}>-log10(p-value)</T>
    <T x={672} y={652} anchor="middle" size={7}>log2FC</T>

    <T x={1} y={663} size={13} bold fill="#111">F</T>
    <T x={20} y={668} size={11.2} bold fill="#222">Glioblastoma vs RRMS vs HC - MFIs</T>
    {notes.map(([s, x, y, dark], i) => <T key={i} x={x} y={y} anchor="end" size={6.4} fill={dark ? '#333' : '#aaa'}>{s}</T>)}
    <T x={222} y={932} anchor="middle" size={6.8}>log10(MFI)</T>
    <T x={606} y={932} anchor="middle" size={6.8}>log10(MFI)</T>
    {[[322, PURPLE, 'Glioblastoma'], [386, '#3f8fdc', 'RRMS'], [431, '#79c92a', 'HC']].map(([x, c, s]: any) => (
      <g key={s}>
        <rect x={x} y={934} width={7.5} height={7.5} fill={c} fillOpacity={0.25} stroke={c} strokeWidth={0.8} />
        <T x={x + 12} y={938} size={6.8} fill="#333">{s}</T>
      </g>
    ))}
  </svg>
);

export default function App() {
  return (
    <div style={{ position: 'absolute', left: 0, top: 0, width: 783, height: 946, background: '#fff', fontFamily: '"Liberation Sans", Arial, sans-serif', overflow: 'hidden' }}>
      <PcaChart />
      <Dendrogram />
      <Heatmap />
      <Volcano plot={[35.7, 391, 247.3, 635]} xDomain={[-4.82, 1.02]} yDomain={[-0.216, 4.89]} xTicks={[-4, -3, -2, -1, 0, 1]} yTicks={[0, 1, 2, 3, 4]} points={cPoints} others={cOthers} colors={cColors} labels={cLabels} />
      <Volcano plot={[301.7, 391, 513.3, 635]} xDomain={[-1.64, 3.94]} yDomain={[-0.18, 4.435]} xTicks={[-1, 0, 1, 2, 3]} yTicks={[0, 1, 2, 3, 4]} points={dPoints} others={dOthers} colors={{}} labels={dLabels} />
      <Volcano plot={[567.3, 391, 779.3, 635]} xDomain={[-3.215, 1.785]} yDomain={[-0.214, 5.2]} xTicks={[-3, -2, -1, 0, 1]} yTicks={[0, 1, 2, 3, 4, 5]} points={ePoints} others={eOthers} colors={eColors} labels={eLabels} />
      <Ridges left={0} plotLeft={82.3} plotRight={362.7} domain={[0.75, 5.73]} ticks={[1, 2, 3, 4, 5]} rowLabels={leftRowLabels} ridges={leftRidges} />
      <Ridges left={382} plotLeft={466} plotRight={746} domain={[-0.32, 5.22]} ticks={[0, 2, 4]} rowLabels={rightRowLabels} ridges={rightRidges} />
      <Overlay />
    </div>
  );
}
